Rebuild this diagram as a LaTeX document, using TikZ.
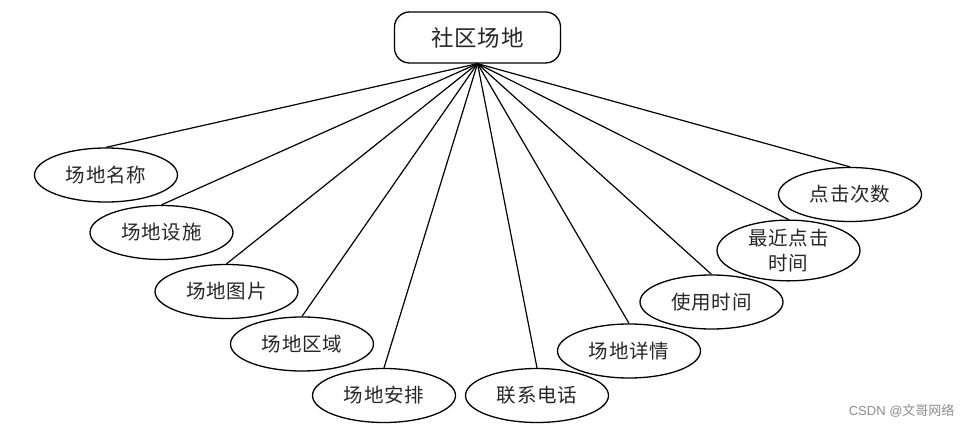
\documentclass[tikz,border=0pt]{standalone}
\usepackage{fontspec}
\setmainfont{Liberation Sans}
\newfontfamily\cjk[LetterSpace=4]{Noto Sans CJK SC}
\newfontfamily\cjkwm{Noto Sans CJK SC}
\usetikzlibrary{shapes.geometric}
\tikzset{
  attr/.style={ellipse, draw=black, line width=1.3pt, minimum width=143pt, minimum height=54pt, inner sep=0pt, align=center, font=\cjk\fontsize{19.5}{25}\selectfont, text=black!85},
  entity/.style={rectangle, rounded corners=15pt, draw=black, line width=1.3pt, minimum width=166pt, minimum height=51pt, font=\cjk\fontsize{22.5}{26}\selectfont, text=black!85},
  link/.style={draw=black, line width=1.2pt}
}
\begin{document}
\begin{tikzpicture}[x=1pt,y=-1pt]
\useasboundingbox (0,0) rectangle (974,430);
\fill[white] (0,0) rectangle (974,430);
\node[entity] (root) at (477.5,37.5) {社区场地};
\node[attr] (a1) at (106,175) {场地名称};
\node[attr] (a2) at (161.5,232.5) {场地设施};
\node[attr] (a3) at (226.5,291.5) {场地图片};
\node[attr] (a4) at (302,344) {场地区域};
\node[attr] (a5) at (384,395.5) {场地安排};
\node[attr] (a6) at (537,395.5) {联系电话};
\node[attr] (a7) at (629,351) {场地详情};
\node[attr] (a8) at (711.5,302) {使用时间};
\node[attr] (a9) at (788.5,250.5) {最近点击\\时间};
\node[attr] (a10) at (850,194.5) {点击次数};
\foreach \n in {a1,a2,a3,a4,a5,a6,a7,a8,a9,a10}{
  \draw[link] (root.south) -- (\n.north);
}
\node[font=\fontsize{13}{15}\selectfont, text=black!45, anchor=east] (wm) at (958,411) {CSDN @{\cjkwm 文哥网络}};
\end{tikzpicture}
\end{document}
